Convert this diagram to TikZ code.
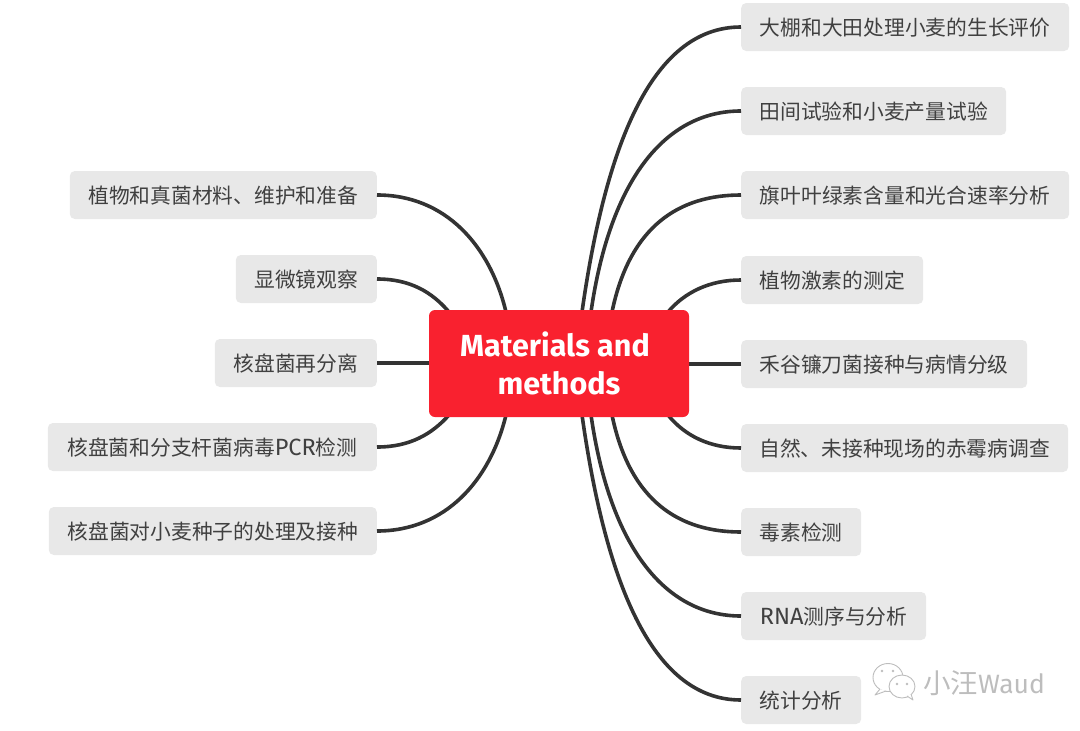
\documentclass[tikz,border=0pt]{standalone}
\usepackage{fontspec}
\setmainfont{Noto Sans CJK SC}
\newfontfamily\latinf{Fira Sans}
\newcommand{\lat}[1]{{\latinf\fontsize{23.5}{25}\selectfont #1}}
\begin{document}
\begin{tikzpicture}[x=1pt,y=-1pt,
  topic/.style={fill=topicfill,rounded corners=5pt,minimum height=48pt,inner sep=0pt,text height=21pt,text depth=3.3pt,text=topictext,font=\fontsize{20.75}{25}\selectfont},
  rtopic/.style={topic,anchor=west},
  ltopic/.style={topic,anchor=east},
  link/.style={draw=linkc,line width=3.6pt},
  rootbox/.style={fill=rootred,rounded corners=6pt,minimum width=260pt,minimum height=107pt,inner sep=0pt,text=white,align=center,font=\latinf\fontsize{30.5}{38}\selectfont\bfseries},
  wm/.style={draw=wmgrey,line width=0.9pt,fill=white,line join=round}]
\definecolor{topicfill}{HTML}{E8E8E8}
\definecolor{topictext}{HTML}{404040}
\definecolor{linkc}{HTML}{333333}
\definecolor{rootred}{HTML}{F9212F}
\definecolor{wmgrey}{HTML}{BDBDBD}
\useasboundingbox (0,0) rectangle (1080,731);
% topics
\node[rtopic,minimum width=328pt] (r1) at (741,27) {大棚和大田处理小麦的生长评价};
\node[rtopic,minimum width=265pt] (r2) at (741,111) {田间试验和小麦产量试验};
\node[rtopic,minimum width=328pt] (r3) at (741,195) {旗叶叶绿素含量和光合速率分析};
\node[rtopic,minimum width=182pt] (r4) at (741,280) {植物激素的测定};
\node[rtopic,minimum width=286pt] (r5) at (741,364) {禾谷镰刀菌接种与病情分级};
\node[rtopic,minimum width=327pt] (r6) at (741,448) {自然、未接种现场的赤霉病调查};
\node[rtopic,minimum width=120pt] (r7) at (741,532) {毒素检测};
\node[rtopic,minimum width=185pt] (r8) at (741,616) {\lat{RNA}测序与分析};
\node[rtopic,minimum width=120pt] (r9) at (741,700) {统计分析};
\node[ltopic,minimum width=307pt] (l1) at (377,195) {植物和真菌材料、维护和准备};
\node[ltopic,minimum width=141pt] (l2) at (377,279) {显微镜观察};
\node[ltopic,minimum width=162pt] (l3) at (377,363) {核盘菌再分离};
\node[ltopic,minimum width=329pt] (l4) at (377,447) {核盘菌和分支杆菌病毒\lat{PCR}检测};
\node[ltopic,minimum width=328pt] (l5) at (377,531) {核盘菌对小麦种子的处理及接种};
% attachment points on the central box
\coordinate (tr1) at (582,312); \coordinate (tr2) at (591,312); \coordinate (tr3) at (612,312); \coordinate (tr4) at (668,312);
\coordinate (br1) at (582,415); \coordinate (br2) at (591,415); \coordinate (br3) at (612,415); \coordinate (br4) at (668,415);
\coordinate (tl1) at (506,312); \coordinate (tl2) at (449,312);
\coordinate (bl1) at (449,415); \coordinate (bl2) at (506,415);
\coordinate (mr) at (680,364); \coordinate (ml) at (440,363);
% connectors
\draw[link] (r1.west) .. controls (650,27) and (605,150) .. (tr1);
\draw[link] (r2.west) .. controls (665,111) and (610,180) .. (tr2);
\draw[link] (r3.west) .. controls (680,195) and (630,225) .. (tr3);
\draw[link] (r4.west) .. controls (710,280) and (685,292) .. (tr4);
\draw[link] (r5.west) -- (mr);
\draw[link] (r6.west) .. controls (710,448) and (685,436) .. (br4);
\draw[link] (r7.west) .. controls (680,532) and (630,502) .. (br3);
\draw[link] (r8.west) .. controls (665,616) and (610,547) .. (br2);
\draw[link] (r9.west) .. controls (650,700) and (605,577) .. (br1);
\draw[link] (l1.east) .. controls (445,195) and (490,245) .. (tl1);
\draw[link] (l2.east) .. controls (410,279) and (432,292) .. (tl2);
\draw[link] (l3.east) -- (ml);
\draw[link] (l4.east) .. controls (410,447) and (432,434) .. (bl1);
\draw[link] (l5.east) .. controls (445,531) and (490,481) .. (bl2);
% central topic
\node[rootbox] (root) at (559,363.5) {Materials and\hspace*{8pt}\\ methods};
% watermark
\draw[wm] (888,677.5) ellipse [x radius=15pt,y radius=14pt];
\draw[wm] (880,689) -- (875,695) -- (886,691);
\draw[wm] (902,686.5) ellipse [x radius=13pt,y radius=11.5pt];
\draw[wm] (907,696) -- (913,700) -- (911,694);
\foreach \p in {(882,671),(893,671),(897,684),(907,684)} \fill[wmgrey] \p circle (1.3pt);
\node[anchor=west,inner sep=0pt,text=wmgrey,font=\fontsize{27.5}{30}\selectfont] (wmtext) at (923,683) {小汪{\latinf\fontsize{26.5}{30}\selectfont Waud}};
\end{tikzpicture}
\end{document}
